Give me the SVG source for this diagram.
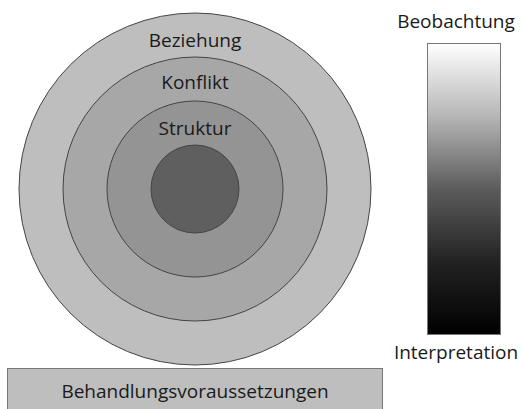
<svg xmlns="http://www.w3.org/2000/svg" width="522" height="409" viewBox="0 0 522 409">
<style>
text{font-family:"Open Sans","Noto Sans","Liberation Sans",sans-serif;font-size:19px;fill:#1a1a1a;text-anchor:middle}
.ring{stroke:#444;stroke-width:1}
</style>
<defs>
<linearGradient id="grad" x1="0" y1="0" x2="0" y2="1">
<stop offset="0" stop-color="#ffffff"/>
<stop offset="0.25" stop-color="#b6b6b6"/>
<stop offset="0.5" stop-color="#5c5c5c"/>
<stop offset="0.75" stop-color="#222222"/>
<stop offset="1" stop-color="#000000"/>
</linearGradient>
</defs>
<rect width="522" height="409" fill="#ffffff"/>
<g id="beziehung">
<circle class="ring" cx="195" cy="189" r="176" fill="#bebebe"/>
<text x="195" y="47">Beziehung</text>
</g>
<g id="konflikt">
<circle class="ring" cx="195" cy="189" r="132" fill="#a7a7a7"/>
<text x="195" y="89">Konflikt</text>
</g>
<g id="struktur">
<circle class="ring" cx="195" cy="189" r="88" fill="#949494"/>
<text x="195" y="135">Struktur</text>
</g>
<g id="kern">
<circle class="ring" cx="195" cy="189" r="44" fill="#5f5f5f"/>
</g>
<g id="skala">
<text x="456" y="28">Beobachtung</text>
<rect x="427.5" y="43.5" width="73" height="291" fill="url(#grad)" stroke="#777" stroke-width="1"/>
<text x="456" y="359">Interpretation</text>
</g>
<g id="behandlungsvoraussetzungen">
<rect x="7.5" y="368.5" width="375" height="50" fill="#bebebe" stroke="#777" stroke-width="1"/>
<text x="195" y="398">Behandlungsvoraussetzungen</text>
</g>
<g id="connectors"/>
</svg>
